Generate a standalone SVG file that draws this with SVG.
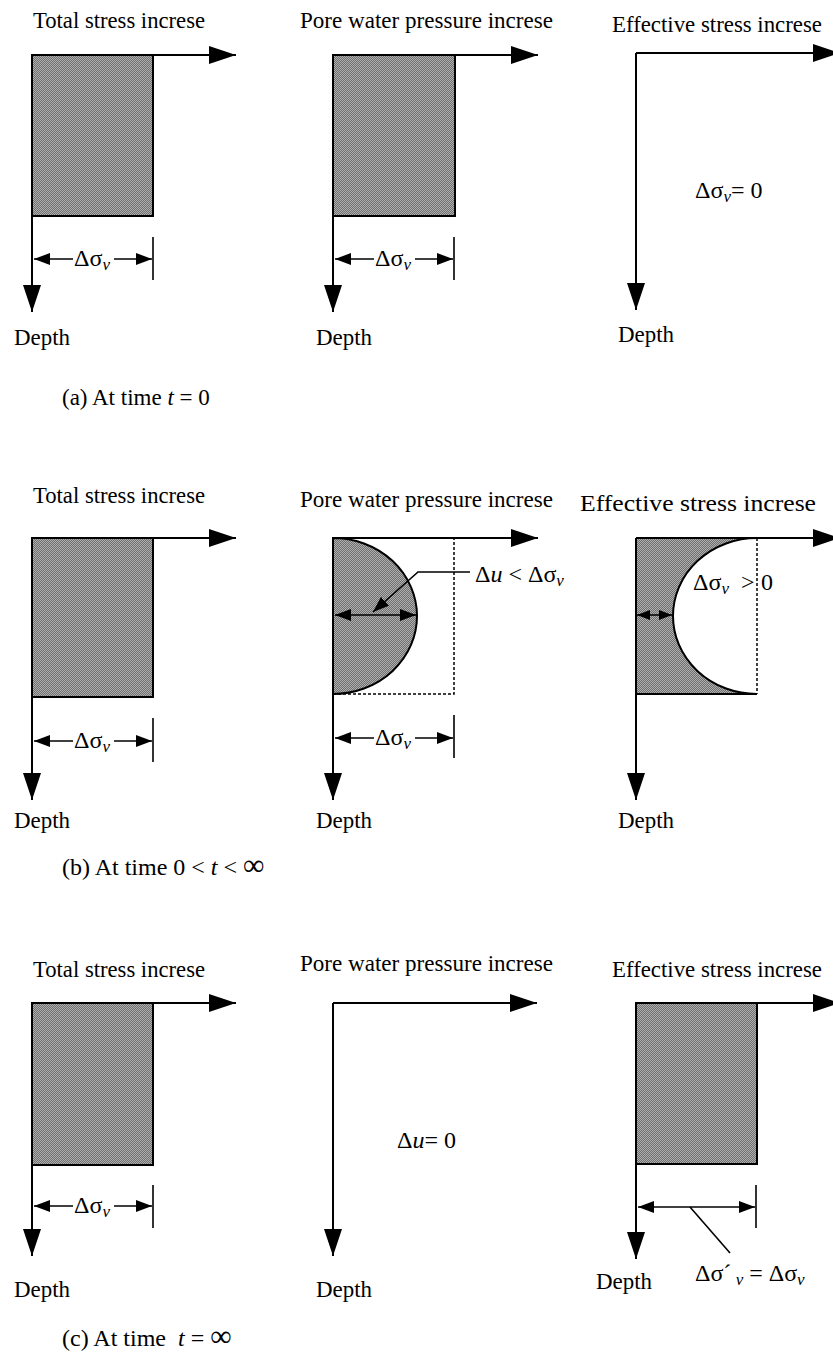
<svg xmlns="http://www.w3.org/2000/svg" width="833" height="1369" viewBox="0 0 833 1369">
<style>
.t{font-family:"Liberation Serif","Times New Roman",serif;font-size:24px;fill:#000}
.i{font-style:italic}
.s{font-size:17px;font-style:italic}
.inf{font-size:30px}
.ax{stroke:#000;stroke-width:2;fill:none}
.box{fill:url(#hatch);stroke:#000;stroke-width:2}
.dim{stroke:#000;stroke-width:1.6;fill:none}
.dot{stroke:#000;stroke-width:1.5;stroke-dasharray:3 2;fill:none}
</style>
<defs>
<pattern id="hatch" width="2" height="2" patternUnits="userSpaceOnUse">
<rect width="2" height="2" fill="#6e6e6e"/>
<rect width="1" height="1" fill="#b0b0b0"/>
<rect x="1" y="1" width="1" height="1" fill="#b0b0b0"/>
</pattern>
<marker id="big" markerUnits="userSpaceOnUse" markerWidth="27" markerHeight="18" refX="27" refY="9" orient="auto">
<path d="M0,0 L27,9 L0,18 Z" fill="#000"/>
</marker>
<marker id="sm" markerUnits="userSpaceOnUse" markerWidth="16" markerHeight="12" refX="16" refY="6" orient="auto-start-reverse">
<path d="M0,0 L16,6 L0,12 Z" fill="#000"/>
</marker>
<marker id="tiny" markerUnits="userSpaceOnUse" markerWidth="13" markerHeight="10" refX="13" refY="5" orient="auto-start-reverse">
<path d="M0,0 L13,5 L0,10 Z" fill="#000"/>
</marker>
</defs>
<rect width="833" height="1369" fill="#fff"/>

<!-- Row a -->
<g id="a-total">
<text class="t" x="33" y="28" textLength="172" lengthAdjust="spacingAndGlyphs">Total stress increse</text>
<rect class="box" x="32" y="55" width="121" height="161"/>
<path class="ax" d="M32,55 H236" marker-end="url(#big)"/>
<path class="ax" d="M32,55 V312" marker-end="url(#big)"/>
<text class="t" x="74" y="266">Δσ<tspan class="s" dy="4">v</tspan></text>
<text class="t" x="14" y="345" textLength="56" lengthAdjust="spacingAndGlyphs">Depth</text>
</g>
<g id="a-pore">
<text class="t" x="300" y="28" textLength="253" lengthAdjust="spacingAndGlyphs">Pore water pressure increse</text>
<rect class="box" x="333" y="55" width="122" height="161"/>
<path class="ax" d="M333,55 H538" marker-end="url(#big)"/>
<path class="ax" d="M333,55 V312" marker-end="url(#big)"/>
<text class="t" x="375" y="266">Δσ<tspan class="s" dy="4">v</tspan></text>
<text class="t" x="316" y="345" textLength="56" lengthAdjust="spacingAndGlyphs">Depth</text>
</g>
<g id="a-eff">
<text class="t" x="612" y="32" textLength="210" lengthAdjust="spacingAndGlyphs">Effective stress increse</text>
<path class="ax" d="M636,53 H840" marker-end="url(#big)"/>
<path class="ax" d="M636,53 V310" marker-end="url(#big)"/>
<text class="t" x="695" y="198">Δσ<tspan class="s" dy="4">v</tspan><tspan dy="-4">= 0</tspan></text>
<text class="t" x="618" y="342" textLength="56" lengthAdjust="spacingAndGlyphs">Depth</text>
</g>
<text id="cap-a" class="t" x="62" y="405" style="font-size:23px">(a) At time <tspan class="i">t</tspan> = 0</text>

<!-- Row b -->
<g id="b-total">
<text class="t" x="33" y="503" textLength="172" lengthAdjust="spacingAndGlyphs">Total stress increse</text>
<rect class="box" x="32" y="538" width="121" height="159"/>
<path class="ax" d="M32,538 H236" marker-end="url(#big)"/>
<path class="ax" d="M32,538 V800" marker-end="url(#big)"/>
<text class="t" x="74" y="748">Δσ<tspan class="s" dy="4">v</tspan></text>
<text class="t" x="14" y="828" textLength="56" lengthAdjust="spacingAndGlyphs">Depth</text>
</g>
<g id="b-pore">
<text class="t" x="300" y="507" textLength="253" lengthAdjust="spacingAndGlyphs">Pore water pressure increse</text>
<path class="box" d="M333,538 A84,78 0 0 1 333,694 Z"/>
<path class="dot" d="M333,694 H454 V538"/>
<path class="ax" d="M333,538 H538" marker-end="url(#big)"/>
<path class="ax" d="M333,538 V800" marker-end="url(#big)"/>
<text class="t" x="475" y="582">Δ<tspan class="i">u</tspan> &lt; Δσ<tspan class="s" dy="4">v</tspan></text>
<text class="t" x="375" y="745">Δσ<tspan class="s" dy="4">v</tspan></text>
<text class="t" x="316" y="828" textLength="56" lengthAdjust="spacingAndGlyphs">Depth</text>
</g>
<g id="b-eff">
<text class="t" x="580" y="511" textLength="236" lengthAdjust="spacingAndGlyphs">Effective stress increse</text>
<path d="M636,538 H757 A84,78 0 0 0 757,694 H636 Z" fill="url(#hatch)" stroke="none"/>
<path class="ax" d="M757,538 A84,78 0 0 0 757,694"/>
<path class="ax" d="M636,694 H757"/>
<path class="dot" d="M757,538 V694"/>
<path class="ax" d="M636,538 H840" marker-end="url(#big)"/>
<path class="ax" d="M636,538 V800" marker-end="url(#big)"/>
<text class="t" x="693" y="590">Δσ<tspan class="s" dy="4">v</tspan><tspan dy="-4" x="741">&gt;</tspan><tspan x="761">0</tspan></text>
<text class="t" x="618" y="828" textLength="56" lengthAdjust="spacingAndGlyphs">Depth</text>
</g>
<text id="cap-b" class="t" x="62" y="875">(b) At time 0 &lt; <tspan class="i">t</tspan> &lt; <tspan class="inf">∞</tspan></text>

<!-- Row c -->
<g id="c-total">
<text class="t" x="33" y="977" textLength="172" lengthAdjust="spacingAndGlyphs">Total stress increse</text>
<rect class="box" x="32" y="1003" width="121" height="162"/>
<path class="ax" d="M32,1003 H236" marker-end="url(#big)"/>
<path class="ax" d="M32,1003 V1256" marker-end="url(#big)"/>
<text class="t" x="74" y="1213">Δσ<tspan class="s" dy="4">v</tspan></text>
<text class="t" x="14" y="1297" textLength="56" lengthAdjust="spacingAndGlyphs">Depth</text>
</g>
<g id="c-pore">
<text class="t" x="300" y="971" textLength="253" lengthAdjust="spacingAndGlyphs">Pore water pressure increse</text>
<path class="ax" d="M333,1003 H537" marker-end="url(#big)"/>
<path class="ax" d="M333,1003 V1256" marker-end="url(#big)"/>
<text class="t" x="397" y="1148">Δ<tspan class="i">u</tspan>= 0</text>
<text class="t" x="316" y="1297" textLength="56" lengthAdjust="spacingAndGlyphs">Depth</text>
</g>
<g id="c-eff">
<text class="t" x="612" y="977" textLength="210" lengthAdjust="spacingAndGlyphs">Effective stress increse</text>
<rect class="box" x="636" y="1003" width="121" height="161"/>
<path class="ax" d="M636,1003 H840" marker-end="url(#big)"/>
<path class="ax" d="M636,1003 V1259" marker-end="url(#big)"/>
<text class="t" x="695" y="1281">Δσ´<tspan class="s" dy="4"> v</tspan><tspan dy="-4"> = Δσ</tspan><tspan class="s" dy="4">v</tspan></text>
<text class="t" x="596" y="1289" textLength="56" lengthAdjust="spacingAndGlyphs">Depth</text>
</g>
<text id="cap-c" class="t" x="62" y="1346">(c) At time <tspan class="i" dx="6">t</tspan> = <tspan class="inf">∞</tspan></text>

<g id="connectors">
<path class="dim" d="M73,259 H34" marker-end="url(#sm)"/>
<path class="dim" d="M114,259 H152" marker-end="url(#sm)"/>
<path class="dim" d="M153,237 V280"/>
<path class="dim" d="M374,259 H335" marker-end="url(#sm)"/>
<path class="dim" d="M415,259 H453" marker-end="url(#sm)"/>
<path class="dim" d="M454,237 V280"/>
<path class="dim" d="M73,741 H34" marker-end="url(#sm)"/>
<path class="dim" d="M114,741 H152" marker-end="url(#sm)"/>
<path class="dim" d="M153,718 V762"/>
<path class="dim" d="M374,738 H335" marker-end="url(#sm)"/>
<path class="dim" d="M415,738 H453" marker-end="url(#sm)"/>
<path class="dim" d="M454,715 V758"/>
<path class="dim" d="M335,615 H416" marker-start="url(#sm)" marker-end="url(#sm)"/>
<path class="dim" d="M470,572 H418 L373,612" marker-end="url(#sm)"/>
<path class="dim" d="M637,615 H672" marker-start="url(#tiny)" marker-end="url(#tiny)"/>
<path class="dim" d="M73,1206 H34" marker-end="url(#sm)"/>
<path class="dim" d="M114,1206 H152" marker-end="url(#sm)"/>
<path class="dim" d="M153,1185 V1228"/>
<path class="dim" d="M638,1207 H755" marker-start="url(#sm)" marker-end="url(#sm)"/>
<path class="dim" d="M756,1185 V1228"/>
<path class="dim" d="M690,1207 L730,1253"/>
</g>
</svg>
